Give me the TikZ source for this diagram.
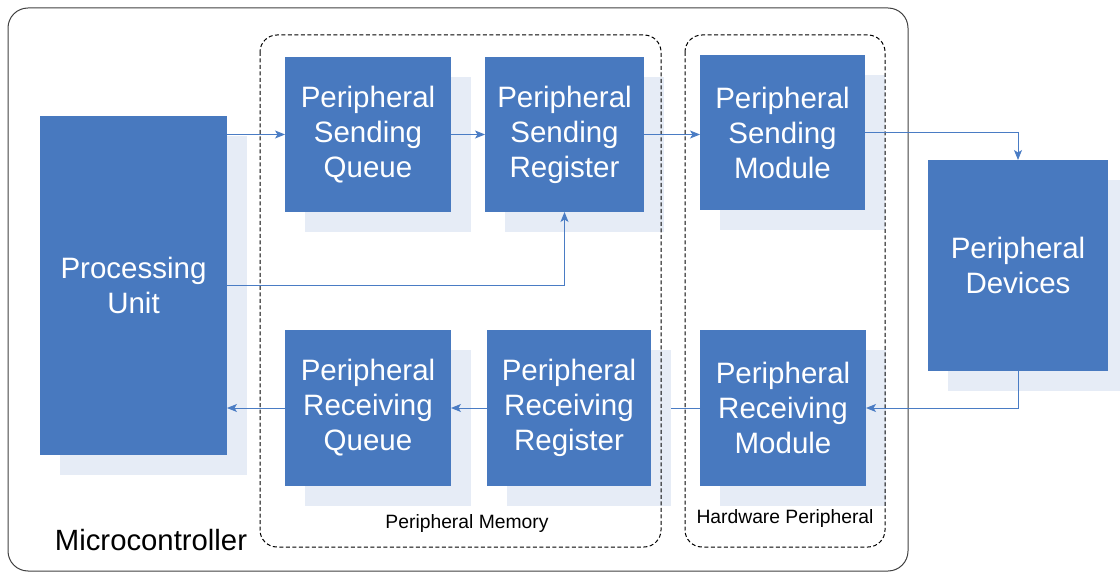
\documentclass[tikz,border=0pt]{standalone}
\usepackage{fontspec}
\setmainfont{Liberation Sans}
\usetikzlibrary{arrows.meta}
\definecolor{boxblue}{RGB}{72,121,191}
\definecolor{shadeblue}{RGB}{230,236,246}
\definecolor{linkblue}{RGB}{74,124,196}
\pgfdeclarelayer{under}
\pgfdeclarelayer{shade}
\pgfsetlayers{under,shade,main}
\begin{document}
\begin{tikzpicture}[x=1pt,y=-1pt,
  blk/.style={fill=boxblue,text=white,font=\fontsize{29.5}{35}\selectfont,align=center,inner sep=0pt,outer sep=0pt},
  link/.style={draw=linkblue,line width=0.9pt,-{Stealth[length=10pt,width=8pt,inset=2.5pt]}},
  grp/.style={draw=black,dash pattern=on 4pt off 2.5pt,line width=1pt,rounded corners=17pt},
  small/.style={font=\fontsize{19.3}{22}\selectfont,text=black}]
\useasboundingbox (0,0) rectangle (1120,572);
% outer microcontroller frame
\draw[black!75,line width=1pt,rounded corners=20pt] (8,8) rectangle (908,571);
% blocks
\node[blk,minimum width=187pt,minimum height=339pt] (pu) at (133.5,285.5) {Processing\\Unit};
\node[blk,minimum width=166pt,minimum height=155pt] (psq) at (368,134.5) {Peripheral\\Sending\\Queue};
\node[blk,minimum width=159pt,minimum height=155pt] (psr) at (564.5,134.5) {Peripheral\\Sending\\Register};
\node[blk,minimum width=165pt,minimum height=155pt] (psm) at (782.5,132.5) {Peripheral\\Sending\\Module};
\node[blk,minimum width=180pt,minimum height=211pt] (pd) at (1018,265.5) {Peripheral\\Devices};
\node[blk,minimum width=166pt,minimum height=156pt] (prq) at (368,408) {Peripheral\\Receiving\\Queue};
\node[blk,minimum width=164pt,minimum height=156pt] (prr) at (569,408) {Peripheral\\Receiving\\Register};
\node[blk,minimum width=166pt,minimum height=156pt] (prm) at (783,408) {Peripheral\\Receiving\\Module};
% shadows
\begin{pgfonlayer}{shade}
\foreach \n in {pu,psq,psr,psm,pd,prq,prr,prm}{
  \fill[shadeblue] ([shift={(20,20)}]\n.north west) rectangle ([shift={(20,20)}]\n.south east);
}
\end{pgfonlayer}
% groups
\draw[grp] (260,35) rectangle (661,547);
\draw[grp] (685,35) rectangle (885,547);
\node[small] (pmlabel) at (467,524) {Peripheral Memory};
\node[small] (hplabel) at (785,519) {Hardware Peripheral};
\node[font=\fontsize{29.3}{34}\selectfont] (mclabel) at (151,540) {Microcontroller};
% connectors
\draw[link] (psq.west -| pu.east) -- (psq.west);
\draw[link] (psq.east) -- (psr.west);
\draw[link] (psr.east) -- (psr.east -| psm.west);
\draw[link] (psm.east) -| (pd.north);
\draw[link] (pu.east) -| (psr.south);
\draw[link] (pd.south) |- (prm.east);
\begin{pgfonlayer}{under}
\draw[link] (prm.west) -- (prr.east);
\end{pgfonlayer}
\draw[link] (prr.west) -- (prq.east);
\draw[link] (prq.west) -- (prq.west -| pu.east);
\end{tikzpicture}
\end{document}
